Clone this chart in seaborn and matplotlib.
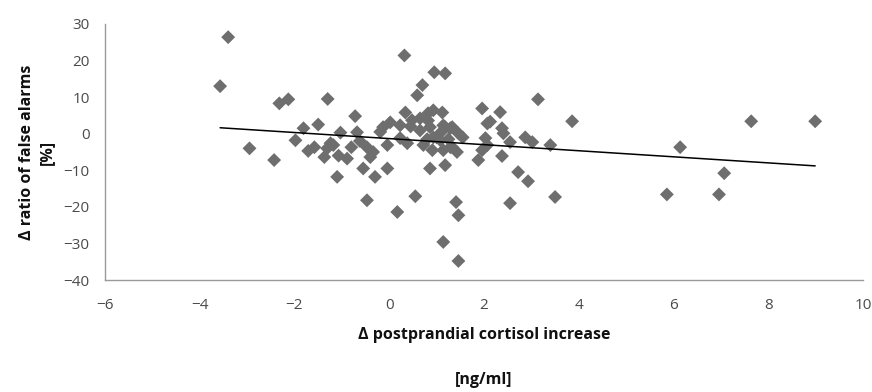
import numpy as np
import pandas as pd
import matplotlib.pyplot as plt
import seaborn as sns

# values
cortisol_increase = [
    -3.40, -3.57, -2.32, -2.13, -2.95, -2.43, -1.98, -1.81, -1.50, -1.71,
    -1.58, -1.37, -1.30, -1.24, -1.10, -1.03, -1.07, -0.89, -0.80, -0.72,
    -0.68, -0.47, -0.34, -0.40, -0.55, -0.30, -0.04, -0.47, -0.13, 0.02,
    -0.04, 0.17, 0.23, 0.23, 0.34, 0.38, 0.32, 0.59, 0.70, 0.48,
    0.65, 0.65, 0.82, 0.86, 0.95, 1.18, 1.12, 0.93, 0.72, 0.91,
    0.86, 1.18, 0.55, 0.80, 1.00, 1.14, 1.29, 1.46, 1.29, 1.43,
    1.41, 1.46, 1.14, 1.46, 1.96, 1.88, 1.96, 1.10, 1.25, 2.07,
    2.13, 2.03, 2.07, 2.34, 2.38, 2.41, 2.55, 2.38, 2.87, 3.02,
    3.40, 3.14, 3.86, 2.72, 2.93, 2.55, 3.50, 5.86, 6.14, 6.96,
    7.07, 7.64, 8.99, 0.82, 1.18, 1.33, 0.93, 1.08, 1.14, 1.33,
    -0.19, 0.45, -1.18, -1.31, 1.55, -0.62,
]
false_alarm_ratio = [
    26.4, 13.0, 8.3, 9.4, -4.0, -7.2, -1.8, 1.5, 2.5, -4.7,
    -3.7, -6.4, 9.5, -2.6, -11.8, 0.3, -6.0, -6.8, -3.7, 4.8,
    0.4, -3.7, -5.0, -6.4, -9.5, -11.8, -9.5, -18.2, 1.8, 3.1,
    -3.1, -21.4, -1.2, 2.3, 5.8, -2.6, 21.4, 10.5, 13.3, 3.7,
    4.2, 0.9, 5.6, 1.8, 16.8, 16.5, 5.8, 6.4, -3.1, -4.5,
    -9.5, -8.6, -17.1, -1.5, -1.0, 2.3, 1.5, 0.1, -3.7, -5.0,
    -18.7, -22.3, -29.6, -34.8, 6.9, -7.2, -4.5, 0.5, -1.5, 2.8,
    3.3, -1.2, -3.1, 5.9, 1.5, 0.1, -2.3, -6.1, -1.0, -2.3,
    -3.1, 9.4, 3.4, -10.5, -13.0, -19.0, -17.3, -16.6, -3.7, -16.6,
    -10.8, 3.4, 3.4, 3.6, 1.8, 1.8, -1.0, -1.8, -4.5, -3.7,
    0.5, 2.0, -3.1, -4.0, -1.0, -2.0,
]

x_ticks = [-6, -4, -2, 0, 2, 4, 6, 8, 10]
y_ticks = [-40, -30, -20, -10, 0, 10, 20, 30]

df = pd.DataFrame({"cortisol": cortisol_increase, "false_alarms": false_alarm_ratio})

sns.set_style("white")
plt.rcParams['font.family'] = ['Open Sans', 'DejaVu Sans']

fig = plt.figure(figsize=(8.72, 3.92), dpi=100)
ax = fig.add_axes([0.1204, 0.2857, 0.8693, 0.6531])

sns.regplot(data=df, x="cortisol", y="false_alarms", ci=None, ax=ax,
            marker="D",
            scatter_kws={"s": 50, "color": "#6e6e6e", "edgecolor": "none", "alpha": 1},
            line_kws={"color": "black", "linewidth": 1.1})

ax.set_xlim(-6, 10)
ax.set_ylim(-40, 30)
ax.set_xticks(x_ticks)
ax.set_yticks(y_ticks)
ax.tick_params(axis="both", length=0, labelsize=11, labelcolor="#4a4a4a")
ax.tick_params(axis="x", pad=13)
ax.tick_params(axis="y", pad=11)

for side in ["top", "right"]:
    ax.spines[side].set_visible(False)
for side in ["left", "bottom"]:
    ax.spines[side].set_color("#9a9a9a")
    ax.spines[side].set_linewidth(1.0)

ax.set_xlabel("Δ postprandial cortisol increase\n\n[ng/ml]", fontsize=11.5,
              fontweight="bold", linespacing=1.55, labelpad=10, color="#111111")
ax.set_ylabel("Δ ratio of false alarms\n[%]", fontsize=11.5, fontweight="bold",
              labelpad=6, linespacing=1.35, color="#111111")

plt.savefig("out.png", dpi=100)
